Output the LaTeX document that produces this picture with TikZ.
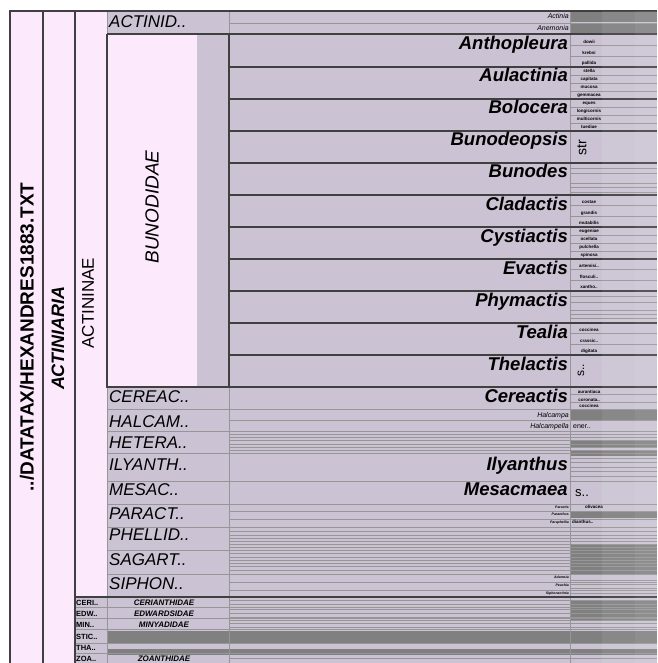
\documentclass[tikz,border=0pt]{standalone}
\usepackage{fontspec}
\setmainfont{Liberation Sans}
\definecolor{pinkbg}{RGB}{252,233,252}
\definecolor{lavbg}{RGB}{203,195,211}
\definecolor{edge}{RGB}{64,64,64}
\definecolor{rulegray}{RGB}{150,150,150}
\definecolor{emptycell}{RGB}{128,128,128}

\begin{document}
\begin{tikzpicture}[x=1pt, y=-1pt,
  frame/.style={draw=edge, line width=2.6pt},
  gline/.style={draw=edge, line width=2.2pt},
  rule/.style={draw=rulegray, line width=0.9pt},
  rank/.style={rotate=90, inner sep=0pt},
  family/.style={anchor=north west, inner sep=0pt, font=\fontsize{17}{17}\selectfont\itshape},
  genus/.style={anchor=base east, inner sep=0pt, font=\fontsize{18.5}{18.5}\selectfont\bfseries\itshape},
  smallgenus/.style={anchor=base east, inner sep=0pt, font=\fontsize{7}{7}\selectfont\itshape},
  tinygenus/.style={anchor=base east, inner sep=0pt, font=\fontsize{3.5}{3.5}\selectfont\bfseries\itshape},
  species/.style={anchor=base, inner sep=0pt, font=\fontsize{4.5}{4.5}\selectfont\bfseries},
  tag/.style={anchor=base west, inner sep=0pt, font=\fontsize{7.5}{7.5}\selectfont\bfseries},
  minor/.style={anchor=base, inner sep=0pt, font=\fontsize{8}{8}\selectfont\bfseries\itshape}]
\useasboundingbox (0,0) rectangle (657,663);
% backgrounds
\fill[white] (0,0) rectangle (657,663);
\fill[pinkbg] (10,11) rectangle (107,663);
\fill[lavbg] (107,11) rectangle (657,663);
\fill[lavbg] (75,597) rectangle (107,663);
\fill[pinkbg] (107,34) rectangle (197,387);
% empty species cells
\foreach \ya/\yb in {11/22.5, 23.5/34, 409/420, 441/447, 450/456, 511/518, 545/574, 600/621}
  \fill[emptycell] (570,\ya) rectangle (657,\yb);
\foreach \ya/\yb in {631/644, 649/655}
  \fill[emptycell] (107,\ya) rectangle (657,\yb);

% thin rules
\draw[rule] (107,11) rectangle (229,34);
\draw[rule] (229,23) -- (657,23);
\draw[rule] (570,11) -- (570,663);
\draw[rule] (107,387) -- (107,663);
\draw[rule] (229,387) -- (229,663);
\foreach \y in {409,431,453,481,504,527,550,574}
  \draw[rule] (107,\y) -- (657,\y);
\foreach \y in {607,618,629,643,653}
  \draw[rule] (75,\y) -- (657,\y);
\foreach \y in {420,434,437,440,444,447,450,511,519,531,535,538,541,544,547,553,557,560,563,566,570,582,590,600,604,609,613,617,620,623,627,658}
  \draw[rule] (229,\y) -- (657,\y);
\foreach \y in {168,173,183,187,192,296,302,310,314,318,394.5,402,458,462,467,471,476,580,584,588,593}
  \draw[rule] (570,\y) -- (657,\y);

% species of the expanded genera
\foreach \gy/\n/\gn/\splist in {35/3/anth/{dowii,krebsi,pallida},
    67/4/aula/{stella,capitata,mucosa,gemmacea},
    99/4/bolo/{eques,longicornis,multicornis,tuediae},
    195/3/clad/{costae,grandis,mutabilis},
    227/4/cyst/{eugeniae,ocellata,pulchella,spinosa},
    259/3/evac/{artemisi..,flosculi..,xantho..},
    323/3/teal/{coccinea,crassic..,digitata}} {
  \foreach \sp [count=\i] in \splist {
    \node[species] (\gn-\i) at (589,{\gy+\i*32/\n-2.2}) {\sp};
    \ifnum\i<\n \draw[rule] (570,{\gy+\i*32/\n}) -- (657,{\gy+\i*32/\n}); \fi
  }
}
\foreach \y/\sp [count=\i] in {395/aurantiaca, 402.5/coronata.., 409/coccinea}
  \node[species] (cere-\i) at (589,\y-1.5) {\sp};

% thick frames
\draw[frame] (10,663) -- (10,11) -- (657,11);
\draw[frame] (43,11) -- (43,663);
\draw[frame] (75,11) -- (75,663);
\draw[frame] (75,597) -- (657,597);
\draw[frame] (107,34) -- (657,34);
\draw[frame] (107,34) -- (107,387) -- (657,387);
\draw[frame] (229,34) -- (229,387);
\foreach \y in {67,99,131,163,195,227,259,291,323,355}
  \draw[gline] (229,\y) -- (657,\y);

% ranks
\node[rank, font=\fontsize{19}{19}\selectfont\bfseries] (file) at (27,337) {../DATATAX/HEXANDRES1883.TXT};
\node[rank, font=\fontsize{18}{18}\selectfont\bfseries\itshape] (order) at (58,338) {ACTINIARIA};
\node[rank, font=\fontsize{17}{17}\selectfont] (subfam) at (88,303) {ACTININAE};
\node[rank, font=\fontsize{19}{19}\selectfont\itshape] (bunod) at (152,207) {BUNODIDAE};

% families
\foreach \y/\fam [count=\i] in {15/ACTINID.., 390/CEREAC.., 415/HALCAM.., 437/HETERA.., 459/ILYANTH..,
    483/MESAC.., 507/PARACT.., 529/PHELLID.., 553/SAGART.., 577/SIPHON..}
  \node[family] (fam-\i) at (109,\y) {\fam};

% genera
\foreach \y/\gen [count=\i] in {35/Anthopleura, 67/Aulactinia, 99/Bolocera, 131/Bunodeopsis, 163/Bunodes,
    195/Cladactis, 227/Cystiactis, 259/Evactis, 291/Phymactis, 323/Tealia, 355/Thelactis, 387/Cereactis,
    455/Ilyanthus, 480/Mesacmaea}
  \node[genus] (gen-\i) at (568,\y+15) {\gen};
\node[smallgenus] (actinia) at (569,19) {Actinia};
\node[smallgenus] (anemonia) at (569,31) {Anemonia};
\node[smallgenus] (halcampa) at (569,417.5) {Halcampa};
\node[smallgenus] (halcampella) at (569,428.5) {Halcampella};
\foreach \y/\gen [count=\i] in {508/Paractis, 515.5/Paranthus, 523/Paraphellia, 578/Adamsia, 586/Peachia, 594/Siphonactinia}
  \node[tinygenus] (minor-\i) at (569,\y) {\gen};

% lone species
\node[rank, font=\fontsize{14}{14}\selectfont] (bunodeopsis-sp) at (582,148) {str};
\node[rank, font=\fontsize{12}{12}\selectfont] (thelactis-sp) at (581,370) {s..};
\node[anchor=base west, inner sep=0pt, font=\fontsize{13}{13}\selectfont] (mesacmaea-sp) at (575,496) {s..};
\node[anchor=base west, inner sep=0pt, font=\fontsize{7}{7}\selectfont] (halcampella-sp) at (573,428.5) {ener..};
\node[species] (paract-sp1) at (594,508) {olivacea};
\node[anchor=base west, inner sep=0pt, font=\fontsize{4.5}{4.5}\selectfont\bfseries] (paract-sp3) at (572,523) {dianthus..};

% small families below the subfamily
\foreach \y/\short/\long [count=\i] in {605/CERI../CERIANTHIDAE, 616/EDW../EDWARDSIDAE, 627/MIN../MINYADIDAE,
    639/STIC../{}, 650/THA../{}, 661/ZOA../ZOANTHIDAE} {
  \node[tag] (tag-\i) at (76,\y) {\short};
  \node[minor] (minor-fam-\i) at (164,\y) {\long};
}

% lighter right edge of the species column
\fill[white, opacity=0.07] (602,11) rectangle (657,663);
\fill[white, opacity=0.05] (635,11) rectangle (657,663);
\end{tikzpicture}
\end{document}
